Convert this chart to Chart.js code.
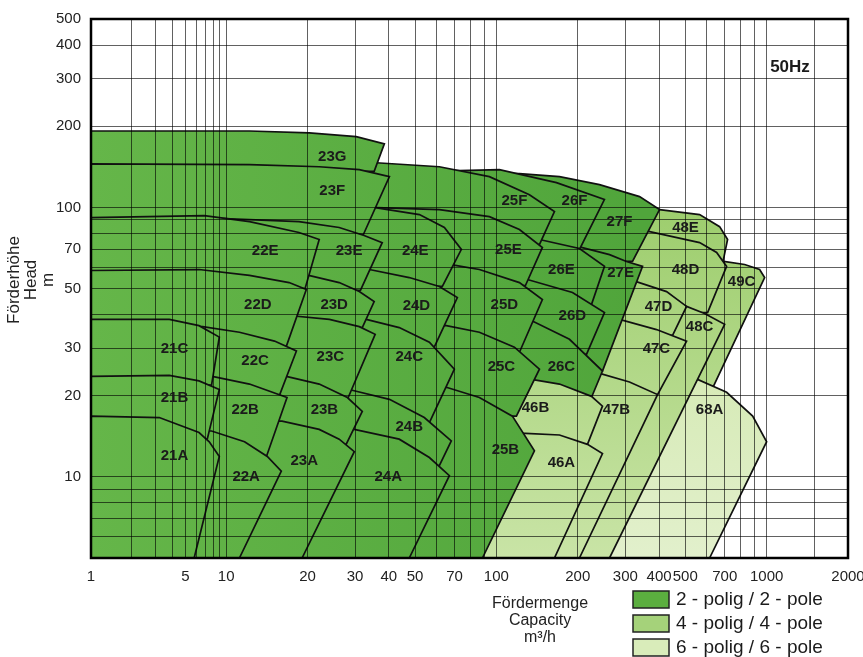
<!DOCTYPE html>
<html>
<head>
<meta charset="utf-8">
<title>Pump range chart 50Hz</title>
<script src="https://cdn.jsdelivr.net/npm/chart.js@4.4.0/dist/chart.umd.min.js"></script>
<style>
  html, body { margin: 0; padding: 0; background: #fff; }
  #wrap { width: 863px; height: 657px; }
</style>
</head>
<body>
<div id="wrap"><canvas id="rangeChart" width="863" height="657"></canvas></div>
<script>
// axis grid and labels
const xGridValues = [1, 2, 3, 4, 5, 6, 7, 8, 9, 10, 20, 30, 40, 50, 60, 70, 80, 90,
  100, 200, 300, 400, 500, 600, 700, 800, 900, 1000, 1500, 2000];
const xTickLabels = [1, 5, 10, 20, 30, 40, 50, 70, 100, 200, 300, 400, 500, 700, 1000, 2000];
const yGridValues = [5, 6, 7, 8, 9, 10, 20, 30, 40, 50, 60, 70, 80, 90, 100, 200, 300, 400, 500];
const yTickLabels = [10, 20, 30, 50, 70, 100, 200, 300, 400, 500];
const xTitleLines = ['Fördermenge', 'Capacity', 'm³/h'];
const yTitleLines = ['Förderhöhe', 'Head', 'm'];
const legendRows = ['2 - polig / 2 - pole', '4 - polig / 4 - pole', '6 - polig / 6 - pole'];

// tiles per pump size, largest impeller first. Q in m3/h, H in m
const family21 = [
  { name: '21C', topQ: [1, 3.8, 6.3, 8.9], topH: [38.4, 38.4, 36.4, 33.0], edgeQ: [7.8], edgeH: [21.9], label: [4.15, 29.8] },
  { name: '21B', topQ: [1, 3.8, 6.3, 8.9], topH: [23.6, 23.8, 22.7, 21.1], edgeQ: [7.25], edgeH: [13.8], label: [4.15, 19.7] },
  { name: '21A', topQ: [1, 3.2, 6.3, 7.5, 8.9], topH: [16.8, 16.6, 14.6, 13.5, 11.9], edgeQ: [5.8], edgeH: [5], label: [4.15, 12.0] }
];
const family22 = [
  { name: '22E', topQ: [1, 6.9, 12.2, 18.6, 22.1], topH: [91.6, 93.2, 88.5, 80.7, 76.0], edgeQ: [19.6], edgeH: [50], label: [13.95, 69.2] },
  { name: '22D', topQ: [1, 6.3, 12.2, 17.1, 19.8], topH: [58.3, 58.8, 55.9, 52.6, 49.6], edgeQ: [16.7], edgeH: [30.5], label: [13.1, 43.6] },
  { name: '22C', topQ: [6.7, 11.2, 15.1, 18.2], topH: [36.1, 34.4, 31.9, 29.3], edgeQ: [15.7], edgeH: [19.9], label: [12.8, 26.9] },
  { name: '22B', topQ: [7.9, 12.2, 16.8], topH: [23.6, 22.1, 19.7], edgeQ: [14.1], edgeH: [11.9], label: [11.76, 17.8] },
  { name: '22A', topQ: [7.8, 11.7, 14.2, 16.0], topH: [14.8, 13.5, 11.9, 10.5], edgeQ: [11.2], edgeH: [5], label: [11.86, 10.0] }
];
const family23 = [
  { name: '23G', topQ: [1, 12.2, 20.3, 30.3, 38.5], topH: [192, 192, 189, 183, 172], edgeQ: [35.3], edgeH: [136], label: [24.7, 154] },
  { name: '23F', topQ: [1, 12.2, 22.1, 31.1, 40.2], topH: [145, 144, 141.5, 138, 130], edgeQ: [32.2], edgeH: [79.3], label: [24.7, 115] },
  { name: '23E', topQ: [9.7, 18.6, 26.2, 32.4, 37.8], topH: [90.8, 88.5, 84.2, 78.6, 74.0], edgeQ: [31.4], edgeH: [49.2], label: [28.5, 69.2] },
  { name: '23D', topQ: [19.5, 26.2, 31.1, 35.3], topH: [56.4, 52.6, 48.7, 44.7], edgeQ: [31.9], edgeH: [35.8], label: [25.1, 43.6] },
  { name: '23C', topQ: [17.1, 24.1, 31.1, 35.6], topH: [39.7, 38.4, 36.1, 33.8], edgeQ: [28.3], edgeH: [19.7], label: [24.3, 27.8] },
  { name: '23B', topQ: [16.7, 22.1, 28.1, 31.9], topH: [23.6, 22.1, 19.7, 17.5], edgeQ: [27.8], edgeH: [13.2], label: [23.1, 17.8] },
  { name: '23A', topQ: [16.1, 22.1, 26.2, 29.8], topH: [16.1, 15.0, 13.8, 12.4], edgeQ: [19.1], edgeH: [5], label: [19.45, 11.5] }
];
const family24 = [
  { name: '24E', topQ: [35.6, 51.9, 64.2, 74.2], topH: [99.8, 94.0, 84.2, 69.8], edgeQ: [63.1], edgeH: [50.9], label: [50.1, 69.2] },
  { name: '24D', topQ: [33.9, 47.6, 61.5, 71.7], topH: [58.8, 54.9, 50.9, 46.3], edgeQ: [58.9], edgeH: [30.3], label: [50.6, 43.2] },
  { name: '24C', topQ: [33.0, 43.7, 56.5, 69.9], topH: [38.4, 35.8, 31.6, 25.1], edgeQ: [56.5], edgeH: [15.9], label: [47.6, 27.8] },
  { name: '24B', topQ: [28.5, 40.2, 54.1, 68.1], topH: [21.1, 19.4, 16.6, 13.6], edgeQ: [61.5], edgeH: [11.0], label: [47.6, 15.3] },
  { name: '24A', topQ: [29.8, 43.7, 56.5, 67.0], topH: [15.0, 13.8, 11.8, 10.1], edgeQ: [47.6], edgeH: [5], label: [39.8, 10.0] }
];
const family25 = [
  { name: '25F', topQ: [35.9, 61.5, 94.2, 132.5, 164], topH: [146.4, 141.5, 130, 111.4, 96.4], edgeQ: [144.3], edgeH: [72.8], label: [116.6, 106] },
  { name: '25E', topQ: [35.9, 61.5, 94.2, 121.7, 148], topH: [99.8, 98.1, 92.4, 82.8, 71.0], edgeQ: [128.1], edgeH: [51.3], label: [110.8, 69.8] },
  { name: '25D', topQ: [70.5, 86.5, 121.7, 148], topH: [60.9, 58.8, 52.6, 45.5], edgeQ: [121.7], edgeH: [29.0], label: [107, 43.6] },
  { name: '25C', topQ: [65.3, 86.5, 116.6, 144.3], topH: [36.4, 34.4, 30.3, 25.1], edgeQ: [118.6], edgeH: [16.8], label: [104.4, 25.5] },
  { name: '25B', topQ: [65.3, 86.5, 114.6, 138.3], topH: [21.5, 19.7, 16.8, 12.5], edgeQ: [88.8], edgeH: [5], label: [108, 12.6] }
];
const family26 = [
  { name: '26F', topQ: [72.9, 102.6, 166.8, 251], topH: [136.8, 138, 123.5, 106.9], edgeQ: [203], edgeH: [69.8], label: [194.5, 106] },
  { name: '26E', topQ: [144.3, 202.9, 251.2], topH: [76.0, 70.4, 60.4], edgeQ: [224.8], edgeH: [43.6], label: [174, 58.8] },
  { name: '26D', topQ: [130.3, 191.2, 251.2], topH: [54.0, 48.3, 40.7], edgeQ: [215.5], edgeH: [28.5], label: [191, 39.7] },
  { name: '26C', topQ: [137.1, 186.4, 246.9], topH: [37.7, 32.4, 24.7], edgeQ: [224.8], edgeH: [19.7], label: [174, 25.5] }
];
const family27 = [
  { name: '27F', topQ: [121.7, 171.2, 240.7, 338.6, 401.5], topH: [133.4, 130, 121.4, 109.6, 98.1], edgeQ: [318.9], edgeH: [63.0], label: [285.5, 88.5] },
  { name: '27E', topQ: [206.4, 262.2, 302.9, 347.4], topH: [71.0, 66.8, 63.0, 60.4], edgeQ: [246.9], edgeH: [24.7], label: [288, 57.3] }
];
const family46 = [
  { name: '46B', topQ: [138.3, 171.2, 224.8, 246.9], topH: [22.9, 22.1, 19.9, 18.3], edgeQ: [217.3], edgeH: [13.2], label: [139.5, 18.0] },
  { name: '46A', topQ: [128.1, 171.2, 217.3, 246.9], topH: [14.5, 14.3, 13.2, 12.2], edgeQ: [164], edgeH: [5], label: [174, 11.3] }
];
const family47 = [
  { name: '47D', topQ: [327.2, 426.3, 505.5], topH: [53.1, 48.7, 42.9], edgeQ: [448.6], edgeH: [33.5], label: [398, 42.9] },
  { name: '47C', topQ: [285.5, 391.3, 505.5], topH: [38.4, 35.2, 31.9], edgeQ: [394.7], edgeH: [20.2], label: [391, 29.8] },
  { name: '47B', topQ: [244.8, 310.8, 394.7], topH: [24.1, 22.5, 20.2], edgeQ: [202.9], edgeH: [5], label: [278, 17.8] }
];
const family48 = [
  { name: '48E', topQ: [401.5, 564.8, 669.9, 717], topH: [98.1, 94.0, 84.8, 76.0], edgeQ: [687.2], edgeH: [61.9], label: [501, 84.2] },
  { name: '48D', topQ: [365.6, 564.8, 653, 711], topH: [81.4, 74.0, 68.0, 60.4], edgeQ: [604.6], edgeH: [40.7], label: [501, 58.8] },
  { name: '48C', topQ: [505.5, 589.2, 699.2], topH: [42.9, 40.4, 36.8], edgeQ: [262.2], edgeH: [5], label: [565, 36.1] }
];
const family49 = [
  { name: '49C', topQ: [693.3, 829, 941.9, 983], topH: [63.0, 61.4, 58.8, 54.9], edgeQ: [636], edgeH: [21.7], label: [808, 53.1] }
];
const family68 = [
  { name: '68A', topQ: [555.2, 711, 887.8, 1000], topH: [23.0, 20.6, 16.8, 13.5], edgeQ: [615], edgeH: [5], label: [615, 17.8] }
];

// back to front, with number of poles
const drawOrder = [
  [family49, 4], [family68, 6], [family48, 4], [family47, 4], [family27, 2], [family26, 2],
  [family46, 4], [family25, 2], [family24, 2], [family23, 2], [family22, 2], [family21, 2]
];

const FONT = '"Liberation Sans", Arial, Helvetica, sans-serif';
const poleSolid = { 2: '#5bae3f', 4: '#a5d27a', 6: '#d9ecba' };

// the first decade (1..10) is drawn at half width on the original sheet
function qToAxis(q) {
  const d = Math.log10(q);
  return d <= 1 ? d / 2 : d - 0.5;
}

function tileOutline(tile) {
  const pts = [{ x: qToAxis(1), y: tile.topH[0] }];
  tile.topQ.forEach((q, i) => pts.push({ x: qToAxis(q), y: tile.topH[i] }));
  tile.edgeQ.forEach((q, i) => pts.push({ x: qToAxis(q), y: tile.edgeH[i] }));
  pts.push({ x: qToAxis(1), y: tile.edgeH[tile.edgeH.length - 1] });
  pts.push({ x: qToAxis(1), y: tile.topH[0] });
  return pts;
}

const gradientCache = {};
function poleFill(poles) {
  return (context) => {
    const { ctx, chartArea } = context.chart;
    if (!chartArea) return poleSolid[poles];
    if (gradientCache[poles]) return gradientCache[poles];
    let g;
    if (poles === 2) {
      g = ctx.createLinearGradient(chartArea.left, 0, 640, 0);
      g.addColorStop(0, '#65b649');
      g.addColorStop(1, '#50a53b');
    } else if (poles === 4) {
      g = ctx.createLinearGradient(0, 200, 0, chartArea.bottom);
      g.addColorStop(0, '#9ccd6c');
      g.addColorStop(1, '#c9e4a6');
    } else {
      g = ctx.createLinearGradient(0, 370, 0, chartArea.bottom);
      g.addColorStop(0, '#d6eab6');
      g.addColorStop(1, '#e2f0cc');
    }
    gradientCache[poles] = g;
    return g;
  };
}

const datasets = [];
const allTiles = [];
drawOrder.forEach(([family, poles]) => {
  family.forEach(tile => {
    allTiles.push(tile);
    datasets.push({
      label: tile.name,
      data: tileOutline(tile),
      borderColor: '#111',
      borderWidth: 1.7,
      backgroundColor: poleFill(poles),
      fill: 'shape',
      pointRadius: 0,
      tension: 0,
      order: -datasets.length
    });
  });
});

const sheetText = {
  id: 'sheetText',
  afterDraw(chart) {
    const { ctx, chartArea: a, scales: { x, y } } = chart;
    ctx.save();

    ctx.fillStyle = '#1b1b1b';
    ctx.textAlign = 'center';
    ctx.textBaseline = 'middle';
    ctx.font = 'bold 15px ' + FONT;
    allTiles.forEach(t => {
      ctx.fillText(t.name, x.getPixelForValue(qToAxis(t.label[0])), y.getPixelForValue(t.label[1]));
    });

    ctx.font = 'bold 17px ' + FONT;
    ctx.fillText('50Hz', a.right - 58, a.top + 48);

    ctx.lineWidth = 2.5;
    ctx.strokeStyle = '#000';
    ctx.strokeRect(a.left, a.top, a.right - a.left, a.bottom - a.top);

    ctx.fillStyle = '#222';
    ctx.font = '17px ' + FONT;
    ctx.save();
    ctx.translate(14, 280);
    ctx.rotate(-Math.PI / 2);
    yTitleLines.forEach((line, i) => ctx.fillText(line, 0, i * 17));
    ctx.restore();

    ctx.font = '16px ' + FONT;
    xTitleLines.forEach((line, i) => ctx.fillText(line, 540, 604 + i * 17));

    ctx.font = '19px ' + FONT;
    ctx.textAlign = 'left';
    legendRows.forEach((row, i) => {
      const top = 591 + i * 24;
      ctx.fillStyle = poleSolid[[2, 4, 6][i]];
      ctx.fillRect(633, top, 36, 17);
      ctx.lineWidth = 1.5;
      ctx.strokeStyle = '#222';
      ctx.strokeRect(633, top, 36, 17);
      ctx.fillStyle = '#1b1b1b';
      ctx.fillText(row, 676, top + 9);
    });
    ctx.restore();
  }
};

const gridColor = 'rgba(0, 0, 0, 0.62)';

new Chart(document.getElementById('rangeChart'), {
  type: 'line',
  data: { datasets: datasets },
  options: {
    responsive: false,
    animation: false,
    devicePixelRatio: 1,
    layout: { padding: { top: 19, right: 15, left: 0, bottom: 0 } },
    plugins: {
      legend: { display: false },
      tooltip: { enabled: false },
      filler: { propagate: false }
    },
    scales: {
      x: {
        type: 'linear',
        min: 0,
        max: qToAxis(2000),
        afterBuildTicks: s => { s.ticks = xGridValues.map(q => ({ value: qToAxis(q) })); },
        afterFit: s => { s.height = 99; s.paddingLeft = 0; s.paddingRight = 0; },
        ticks: {
          autoSkip: false,
          maxRotation: 0,
          padding: 10,
          color: '#222',
          font: { family: FONT, size: 15 },
          callback: (v, i) => xTickLabels.includes(xGridValues[i]) ? String(xGridValues[i]) : ''
        },
        grid: { color: gridColor, lineWidth: 1, drawTicks: false, z: 1 },
        border: { display: false }
      },
      y: {
        type: 'logarithmic',
        min: 5,
        max: 500,
        afterBuildTicks: s => { s.ticks = yGridValues.map(v => ({ value: v })); },
        afterFit: s => { s.width = 91; s.paddingTop = 0; s.paddingBottom = 0; },
        ticks: {
          autoSkip: false,
          padding: 10,
          color: '#222',
          font: { family: FONT, size: 15 },
          callback: v => yTickLabels.includes(v) ? String(v) : ''
        },
        grid: { color: gridColor, lineWidth: 1, drawTicks: false, z: 1 },
        border: { display: false }
      }
    }
  },
  plugins: [sheetText]
});
</script>
</body>
</html>
